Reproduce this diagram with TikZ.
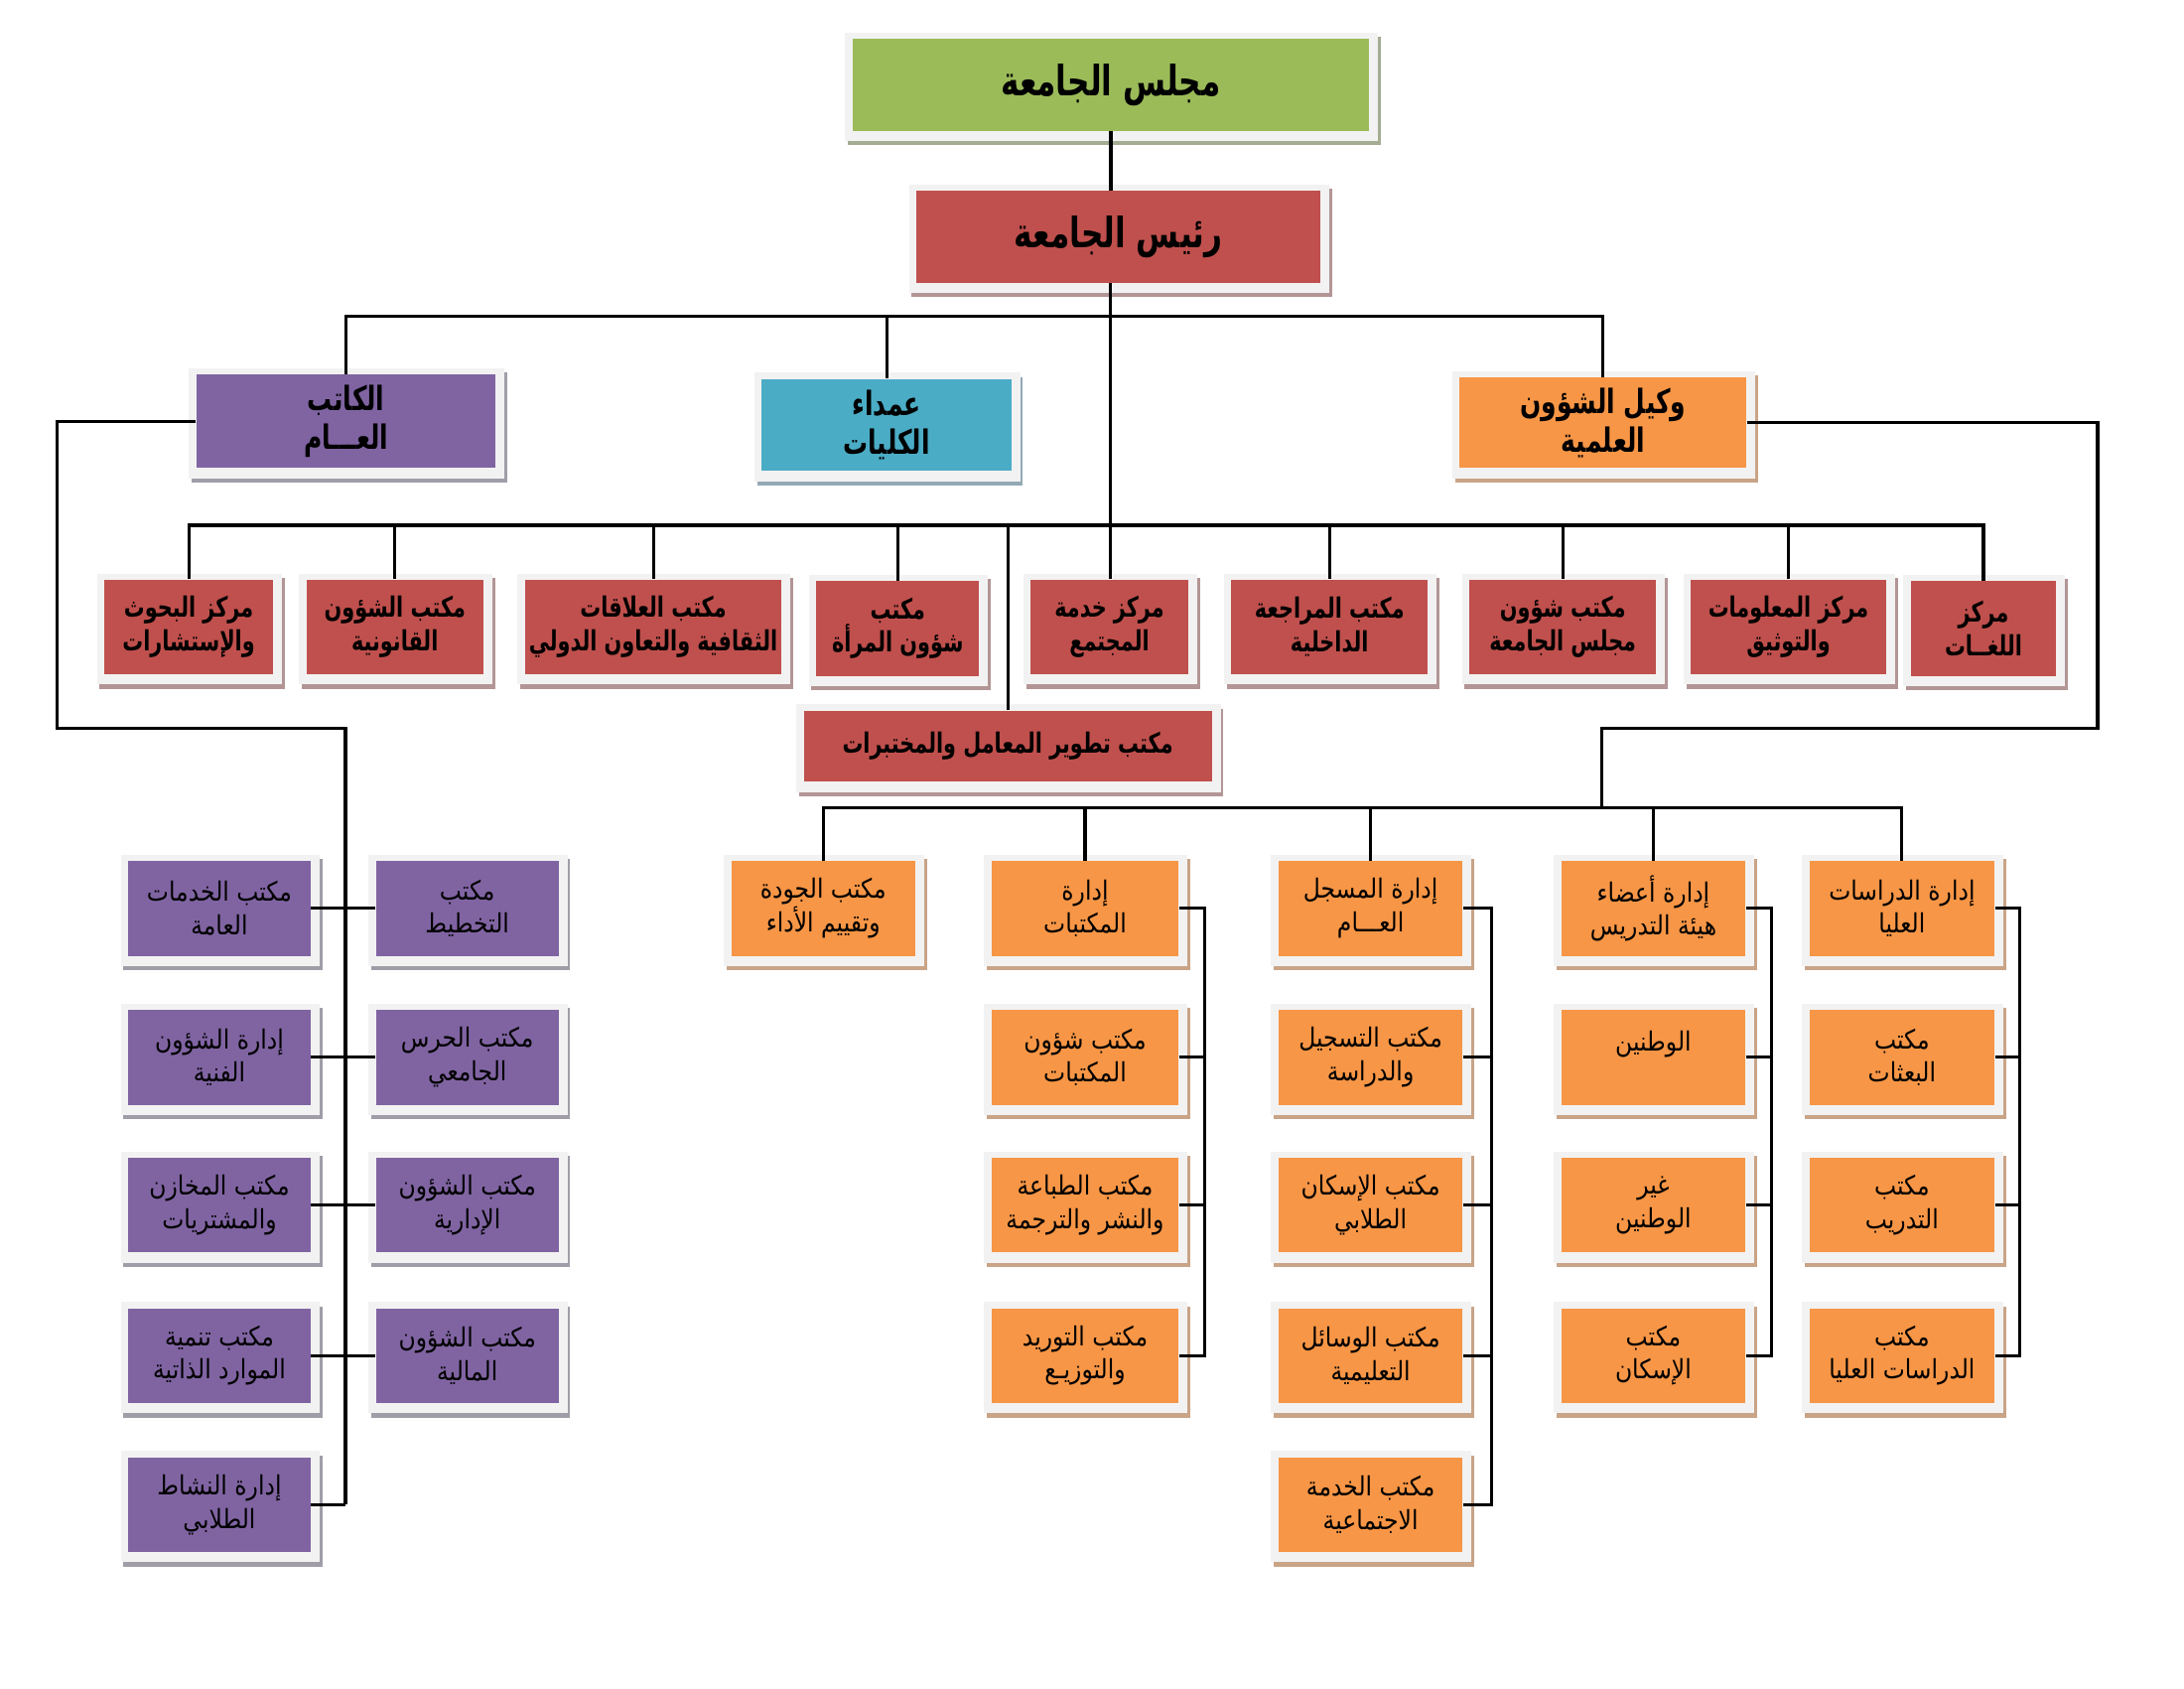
\documentclass[tikz,border=0pt]{standalone}
\usepackage{fontspec}
\usetikzlibrary{calc}
\newfontfamily\arfontB[Script=Arabic, FakeStretch=0.74]{DejaVu Sans}
\newfontfamily\arfontR[Script=Arabic, FakeStretch=0.88]{DejaVu Sans}
\TeXXeTstate=1
\definecolor{fG}{HTML}{9BBB59}\definecolor{sG}{HTML}{A4AC92}
\definecolor{fR}{HTML}{C0504D}\definecolor{sR}{HTML}{B39595}
\definecolor{fB}{HTML}{4BACC6}\definecolor{sB}{HTML}{93A9B6}
\definecolor{fO}{HTML}{F79646}\definecolor{sO}{HTML}{C9A487}
\definecolor{fP}{HTML}{8064A2}\definecolor{sP}{HTML}{A19DA8}
\definecolor{frm}{HTML}{F2F2F2}
\pgfdeclarelayer{bg}
\pgfsetlayers{bg,main}
\newcommand{\AR}[1]{\beginR #1\endR}
\tikzset{
  obx/.style={inner sep=0pt, align=center, text=black},
  big/.style={font=\arfontB\bfseries\fontsize{15}{18}\selectfont},
  mid/.style={font=\arfontB\bfseries\fontsize{12}{14}\selectfont},
  sml/.style={font=\arfontB\bfseries\fontsize{10}{12}\selectfont},
  low/.style={font=\arfontR\fontsize{9.5}{12}\selectfont},
  conn/.style={line width=1.1pt, black},
}
\newcommand{\obox}[8]{%
  \node[obx, #7, fill=f#6, minimum width={#4*0.5pt}, minimum height={#5*0.5pt}] (#1) at (#2,#3) {#8};
  \begin{pgfonlayer}{bg}
    \fill[s#6] ([shift={(-3,10)}]#1.south west) rectangle ([shift={(8,-1)}]#1.north east);
    \fill[frm] ([shift={(-5,7)}]#1.south west) rectangle ([shift={(6,-4)}]#1.north east);
  \end{pgfonlayer}}
\begin{document}
\begin{tikzpicture}[x=0.5pt, y=-0.5pt]
\begin{pgfonlayer}{bg}
  \fill[white] (0,0) rectangle (1568,1212);
\end{pgfonlayer}
\useasboundingbox (0,0) rectangle (1568,1212);

% top levels
\obox{council}{797.5}{61}{371}{66}{G}{big}{\AR{مجلس الجامعة}}
\obox{pres}{803}{170}{290}{66}{R}{big}{\AR{رئيس الجامعة}}
\obox{sec}{248.5}{302.5}{215}{67}{P}{mid}{\AR{الكاتب}\\\AR{العـــام}}
\obox{dean}{636.5}{305}{179}{66}{B}{mid}{\AR{عمداء}\\\AR{الكليات}}
\obox{vice}{1151}{303.5}{206}{65}{O}{mid}{\AR{وكيل الشؤون}\\\AR{العلمية}}

% level 4
\obox{r1}{135.5}{450}{121}{68}{R}{sml}{\AR{مركز البحوث}\\\AR{والإستشارات}}
\obox{r2}{283.5}{450}{127}{68}{R}{sml}{\AR{مكتب الشؤون}\\\AR{القانونية}}
\obox{r3}{469}{450}{184}{68}{R}{sml}{\AR{مكتب العلاقات}\\\AR{الثقافية والتعاون الدولي}}
\obox{r4}{644.5}{451}{117}{68}{R}{sml}{\AR{مكتب}\\\AR{شؤون المرأة}}
\obox{r5}{796.5}{450}{113}{68}{R}{sml}{\AR{مركز خدمة}\\\AR{المجتمع}}
\obox{r6}{954.5}{450}{141}{68}{R}{sml}{\AR{مكتب المراجعة}\\\AR{الداخلية}}
\obox{r7}{1122}{450}{134}{68}{R}{sml}{\AR{مكتب شؤون}\\\AR{مجلس الجامعة}}
\obox{r8}{1284}{450}{140}{68}{R}{sml}{\AR{مركز المعلومات}\\\AR{والتوثيق}}
\obox{r9}{1424}{451}{104}{68}{R}{sml}{\AR{مركز}\\\AR{اللغــات}}
\obox{lab}{723.5}{535.5}{293}{51}{R}{sml}{\AR{مكتب تطوير المعامل والمختبرات}}

% orange subtree
\obox{q}{591}{652}{132}{68}{O}{low}{\AR{مكتب الجودة}\\\AR{وتقييم الأداء}}
\obox{l1}{779}{652}{134}{68}{O}{low}{\AR{إدارة}\\\AR{المكتبات}}
\obox{l2}{779}{759}{134}{68}{O}{low}{\AR{مكتب شؤون}\\\AR{المكتبات}}
\obox{l3}{779}{865}{134}{68}{O}{low}{\AR{مكتب الطباعة}\\\AR{والنشر والترجمة}}
\obox{l4}{779}{973}{134}{68}{O}{low}{\AR{مكتب التوريد}\\\AR{والتوزيـع}}
\obox{m1}{984}{652}{132}{68}{O}{low}{\AR{إدارة المسجل}\\\AR{العـــام}}
\obox{m2}{984}{759}{132}{68}{O}{low}{\AR{مكتب التسجيل}\\\AR{والدراسة}}
\obox{m3}{984}{865}{132}{68}{O}{low}{\AR{مكتب الإسكان}\\\AR{الطلابي}}
\obox{m4}{984}{973}{132}{68}{O}{low}{\AR{مكتب الوسائل}\\\AR{التعليمية}}
\obox{m5}{984}{1080}{132}{68}{O}{low}{\AR{مكتب الخدمة}\\\AR{الاجتماعية}}
\obox{f1}{1187}{652}{132}{68}{O}{low}{\AR{إدارة أعضاء}\\\AR{هيئة التدريس}}
\obox{f2}{1187}{759}{132}{68}{O}{low}{\AR{الوطنين}\\\phantom{x}}
\obox{f3}{1187}{865}{132}{68}{O}{low}{\AR{غير}\\\AR{الوطنين}}
\obox{f4}{1187}{973}{132}{68}{O}{low}{\AR{مكتب}\\\AR{الإسكان}}
\obox{g1}{1365.5}{652}{133}{68}{O}{low}{\AR{إدارة الدراسات}\\\AR{العليا}}
\obox{g2}{1365.5}{759}{133}{68}{O}{low}{\AR{مكتب}\\\AR{البعثات}}
\obox{g3}{1365.5}{865}{133}{68}{O}{low}{\AR{مكتب}\\\AR{التدريب}}
\obox{g4}{1365.5}{973}{133}{68}{O}{low}{\AR{مكتب}\\\AR{الدراسات العليا}}

% purple subtree
\obox{pL1}{157.5}{652}{131}{68}{P}{low}{\AR{مكتب الخدمات}\\\AR{العامة}}
\obox{pR1}{335.5}{652}{131}{68}{P}{low}{\AR{مكتب}\\\AR{التخطيط}}
\obox{pL2}{157.5}{759}{131}{68}{P}{low}{\AR{إدارة الشؤون}\\\AR{الفنية}}
\obox{pR2}{335.5}{759}{131}{68}{P}{low}{\AR{مكتب الحرس}\\\AR{الجامعي}}
\obox{pL3}{157.5}{865}{131}{68}{P}{low}{\AR{مكتب المخازن}\\\AR{والمشتريات}}
\obox{pR3}{335.5}{865}{131}{68}{P}{low}{\AR{مكتب الشؤون}\\\AR{الإدارية}}
\obox{pL4}{157.5}{973}{131}{68}{P}{low}{\AR{مكتب تنمية}\\\AR{الموارد الذاتية}}
\obox{pR4}{335.5}{973}{131}{68}{P}{low}{\AR{مكتب الشؤون}\\\AR{المالية}}
\obox{pL5}{157.5}{1080}{131}{68}{P}{low}{\AR{إدارة النشاط}\\\AR{الطلابي}}

% coordinates
\coordinate (b3) at (797,227);
\coordinate (b4) at (797,377);
\coordinate (b5) at (1150,580);
\coordinate (pa) at (41,523);
\coordinate (pb) at (248,523);
\coordinate (oa) at (1506,523);
\coordinate (ob) at (1150,523);
\coordinate (kl) at (865,0);
\coordinate (km) at (1071,0);
\coordinate (kf) at (1272,0);
\coordinate (kg) at (1450,0);

% connectors
\draw[conn] (council.south) -- (council.south |- pres.north);
\draw[conn] (b3 |- pres.south) -- (b3 |- r5.north);
\draw[conn] (sec.north) |- (b3) -| (vice.north);
\draw[conn] (dean.north) -- (dean.north |- b3);
\draw[conn] (r1.north) |- (b4) -| (r9.north);
\foreach \n in {r2,r3,r4,r6,r7,r8,lab} {\draw[conn] (\n.north) -- (\n.north |- b4);}
\draw[conn] (sec.west) -| (pa) -- (pb) -- (pb |- pL5.east);
\foreach \i in {1,2,3,4} {\draw[conn] (pL\i.east) -- (pR\i.west);}
\draw[conn] (pL5.east) -- (pL5.east -| pb);
\draw[conn] (vice.east) -| (oa) -- (ob) -- (b5);
\draw[conn] (q.north) |- (b5) -| (g1.north);
\foreach \n in {l1,m1,f1} {\draw[conn] (\n.north) -- (\n.north |- b5);}
\draw[conn] (l1.east) -| (kl |- l4.east) -- (l4.east);
\foreach \n in {l2,l3} {\draw[conn] (\n.east) -- (\n.east -| kl);}
\draw[conn] (m1.east) -| (km |- m5.east) -- (m5.east);
\foreach \n in {m2,m3,m4} {\draw[conn] (\n.east) -- (\n.east -| km);}
\draw[conn] (f1.east) -| (kf |- f4.east) -- (f4.east);
\foreach \n in {f2,f3} {\draw[conn] (\n.east) -- (\n.east -| kf);}
\draw[conn] (g1.east) -| (kg |- g4.east) -- (g4.east);
\foreach \n in {g2,g3} {\draw[conn] (\n.east) -- (\n.east -| kg);}
\end{tikzpicture}
\end{document}
